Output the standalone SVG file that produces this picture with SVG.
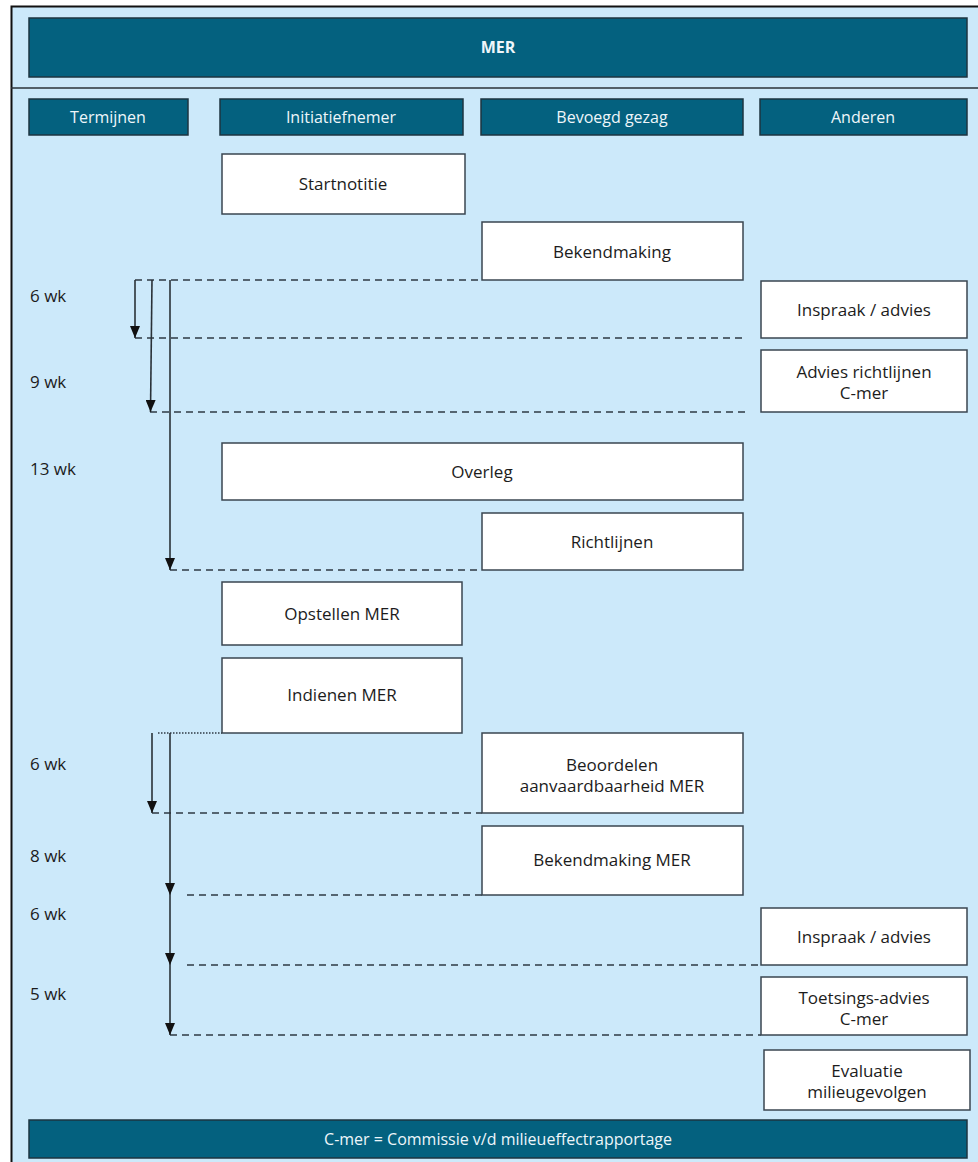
<svg xmlns="http://www.w3.org/2000/svg" width="978" height="1162" viewBox="0 0 978 1162">
<style>
.bar{fill:#04617f;stroke:#1d3440;stroke-width:1.5}
.bt{font-family:"Open Sans","Liberation Sans",sans-serif;font-size:16px;fill:#eef6fa;text-anchor:middle}
.box{fill:#ffffff;stroke:#3a4650;stroke-width:1.5}
.t{font-family:"Open Sans","Liberation Sans",sans-serif;font-size:17px;fill:#1c1c1c;text-anchor:middle}
.wk{font-family:"Open Sans","Liberation Sans",sans-serif;font-size:17px;fill:#1c1c1c}
.dash{stroke:#2e3a44;stroke-width:1.5;stroke-dasharray:7 5;fill:none}
.dot{stroke:#2e3a44;stroke-width:1.5;stroke-dasharray:1.5 1.5;fill:none}
.arr{stroke:#2a3238;stroke-width:1.6;fill:none}
</style>
<defs>
<marker id="ah" viewBox="0 0 12 10" refX="12" refY="5" markerWidth="12" markerHeight="10" markerUnits="userSpaceOnUse" orient="auto">
<path d="M0,0 L12,5 L0,10 Z" fill="#111"/>
</marker>
</defs>
<rect x="0" y="0" width="978" height="1162" fill="#ffffff"/>
<rect x="11.5" y="6.5" width="975" height="1165" fill="#cce9fa" stroke="#111" stroke-width="2"/>
<line x1="11" y1="88" x2="978" y2="88" stroke="#2a3238" stroke-width="1.5"/>

<g id="title"><rect class="bar" x="29" y="18" width="938" height="59"/><text class="bt" x="498" y="53" font-weight="bold">MER</text></g>
<g id="h-termijnen"><rect class="bar" x="29" y="99" width="159" height="36"/><text class="bt" x="108" y="123">Termijnen</text></g>
<g id="h-initiatiefnemer"><rect class="bar" x="220" y="99" width="243" height="36"/><text class="bt" x="341" y="123">Initiatiefnemer</text></g>
<g id="h-bevoegd"><rect class="bar" x="481" y="99" width="262" height="36"/><text class="bt" x="612" y="123">Bevoegd gezag</text></g>
<g id="h-anderen"><rect class="bar" x="760" y="99" width="207" height="36"/><text class="bt" x="863" y="123">Anderen</text></g>

<g id="connectors">
<line class="dash" x1="135" y1="280" x2="482" y2="280"/>
<line class="dash" x1="135" y1="338" x2="745" y2="338"/>
<line class="dash" x1="150" y1="412" x2="745" y2="412"/>
<line class="dash" x1="170" y1="570" x2="482" y2="570"/>
<line class="dot" x1="158" y1="733" x2="222" y2="733"/>
<line class="dash" x1="152" y1="813" x2="482" y2="813"/>
<line class="dash" x1="187" y1="895" x2="482" y2="895"/>
<line class="dash" x1="187" y1="965" x2="761" y2="965"/>
<line class="dash" x1="170" y1="1035" x2="761" y2="1035"/>
<line class="arr" x1="135" y1="280" x2="135" y2="338" marker-end="url(#ah)"/>
<line class="arr" x1="152" y1="280" x2="150.5" y2="412" marker-end="url(#ah)"/>
<line class="arr" x1="170" y1="280" x2="170" y2="570" marker-end="url(#ah)"/>
<line class="arr" x1="152" y1="733" x2="152" y2="813" marker-end="url(#ah)"/>
<line class="arr" x1="170" y1="733" x2="170" y2="895" marker-end="url(#ah)"/>
<line class="arr" x1="170" y1="895" x2="170" y2="965" marker-end="url(#ah)"/>
<line class="arr" x1="170" y1="965" x2="170" y2="1035" marker-end="url(#ah)"/>
</g>

<g id="terms">
<text class="wk" x="30" y="302">6 wk</text>
<text class="wk" x="30" y="388">9 wk</text>
<text class="wk" x="30" y="475">13 wk</text>
<text class="wk" x="30" y="770">6 wk</text>
<text class="wk" x="30" y="862">8 wk</text>
<text class="wk" x="30" y="920">6 wk</text>
<text class="wk" x="30" y="1000">5 wk</text>
</g>

<g id="startnotitie"><rect class="box" x="222" y="154" width="243" height="60"/><text class="t" x="343" y="190">Startnotitie</text></g>
<g id="bekendmaking"><rect class="box" x="482" y="222" width="261" height="58"/><text class="t" x="612" y="258">Bekendmaking</text></g>
<g id="inspraak1"><rect class="box" x="761" y="281" width="206" height="57"/><text class="t" x="864" y="316">Inspraak / advies</text></g>
<g id="advies-richtlijnen"><rect class="box" x="761" y="350" width="206" height="62"/><text class="t" x="864" y="378">Advies richtlijnen</text><text class="t" x="864" y="399">C-mer</text></g>
<g id="overleg"><rect class="box" x="222" y="443" width="521" height="57"/><text class="t" x="482" y="478">Overleg</text></g>
<g id="richtlijnen"><rect class="box" x="482" y="513" width="261" height="57"/><text class="t" x="612" y="548">Richtlijnen</text></g>
<g id="opstellen"><rect class="box" x="222" y="582" width="240" height="63"/><text class="t" x="342" y="620">Opstellen MER</text></g>
<g id="indienen"><rect class="box" x="222" y="658" width="240" height="75"/><text class="t" x="342" y="701">Indienen MER</text></g>
<g id="beoordelen"><rect class="box" x="482" y="733" width="261" height="80"/><text class="t" x="612" y="771">Beoordelen</text><text class="t" x="612" y="792">aanvaardbaarheid MER</text></g>
<g id="bekendmaking-mer"><rect class="box" x="482" y="826" width="261" height="69"/><text class="t" x="612" y="866">Bekendmaking MER</text></g>
<g id="inspraak2"><rect class="box" x="761" y="908" width="206" height="57"/><text class="t" x="864" y="943">Inspraak / advies</text></g>
<g id="toetsings"><rect class="box" x="761" y="977" width="206" height="58"/><text class="t" x="864" y="1004">Toetsings-advies</text><text class="t" x="864" y="1025">C-mer</text></g>
<g id="evaluatie"><rect class="box" x="764" y="1050" width="206" height="60"/><text class="t" x="867" y="1077">Evaluatie</text><text class="t" x="867" y="1098">milieugevolgen</text></g>
<g id="footer"><rect class="bar" x="29" y="1120" width="938" height="38"/><text class="bt" x="498" y="1145">C-mer = Commissie v/d milieueffectrapportage</text></g>
</svg>
